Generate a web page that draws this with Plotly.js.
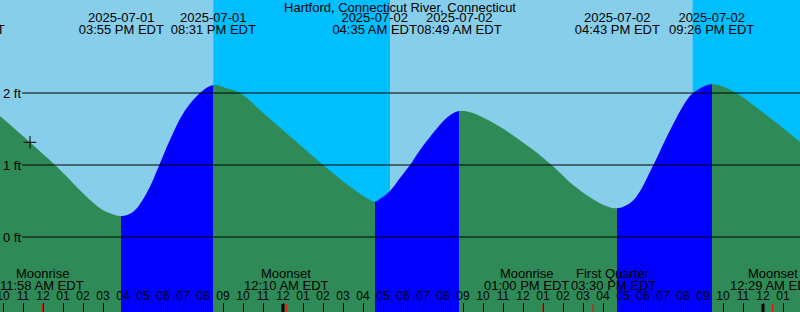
<!DOCTYPE html>
<html>
<head>
<meta charset="utf-8">
<script src="https://cdn.plot.ly/plotly-3.0.1.min.js"></script>
<style>
html,body{margin:0;padding:0;background:#87CEEB;overflow:hidden}
#chart{width:800px;height:312px}
</style>
</head>
<body>
<div id="chart"></div>
<script>
// ---------------- data ----------------
const stationName = 'Hartford, Connecticut River, Connecticut';
const xRange = ['2025-07-01 09:51', '2025-07-03 01:51'];

const curveTimes = [
  '2025-07-01 09:51','2025-07-01 11:21','2025-07-01 12:36','2025-07-01 13:11','2025-07-01 13:51',
  '2025-07-01 14:51','2025-07-01 15:21','2025-07-01 15:55','2025-07-01 16:31','2025-07-01 17:11',
  '2025-07-01 17:49','2025-07-01 18:21','2025-07-01 19:01','2025-07-01 19:51','2025-07-01 20:31',
  '2025-07-01 21:11','2025-07-01 21:51','2025-07-01 23:11','2025-07-02 02:01','2025-07-02 03:21',
  '2025-07-02 04:11','2025-07-02 04:35','2025-07-02 04:51','2025-07-02 05:21','2025-07-02 05:51',
  '2025-07-02 06:21','2025-07-02 06:51','2025-07-02 07:21','2025-07-02 07:51','2025-07-02 08:21',
  '2025-07-02 08:49','2025-07-02 09:31','2025-07-02 10:51','2025-07-02 12:31','2025-07-02 13:26',
  '2025-07-02 14:36','2025-07-02 15:51','2025-07-02 16:43','2025-07-02 17:31','2025-07-02 18:31',
  '2025-07-02 19:11','2025-07-02 20:11','2025-07-02 20:31','2025-07-02 21:26','2025-07-02 22:31',
  '2025-07-03 00:11','2025-07-03 01:51'
];
const curveFt = [
  1.68, 1.315, 1.00, 0.84, 0.65,
  0.40, 0.33, 0.29, 0.35, 0.61,
  1.00, 1.35, 1.72, 2.00, 2.11,
  2.065, 2.00, 1.68, 1.00, 0.70,
  0.54, 0.49, 0.53, 0.64, 0.82,
  1.00, 1.21, 1.39, 1.56, 1.69,
  1.75, 1.72, 1.53, 1.21, 1.00,
  0.70, 0.47, 0.40, 0.51, 1.00,
  1.39, 1.90, 2.00, 2.12, 2.02,
  1.69, 1.32
];

const tideEventTimes = ['2025-07-01 07:58','2025-07-01 15:55','2025-07-01 20:31','2025-07-02 04:35',
                        '2025-07-02 08:49','2025-07-02 16:43','2025-07-02 21:26'];
const tideEventKinds = ['High','Low','High','Low','High','Low','High'];

const sunsetTimes  = ['2025-07-01 20:31','2025-07-02 20:29'];
const sunriseTimes = ['2025-07-02 05:21','2025-07-03 05:22'];

const moonEventTimes = ['2025-07-01 11:58','2025-07-02 00:10','2025-07-02 13:00','2025-07-02 15:30','2025-07-03 00:29'];
const moonEventNames = ['Moonrise','Moonset','Moonrise','First Quarter','Moonset'];

const midnightTimes = ['2025-07-02 00:00','2025-07-03 00:00'];

const yTickValues = [0, 1, 2];
const yTickLabels = ['0 ft', '1 ft', '2 ft'];

const nowTime = '2025-07-01 11:21';
const nowFt = 1.315;

// ---------------- style ----------------
const FONT = 'Liberation Sans, Arial, sans-serif';
const DAY = '#87CEEB', NIGHT = '#00BFFF', FALL = '#2E8B57', RISE = '#0000FF';
const H = 312;
const ROW_TITLE = 7, ROW_TOP_DATE = 19, ROW_TOP_TIME = 31, ROW_BOT_NAME = 273, ROW_BOT_TIME = 285;
const moonLabelShift = [0, 0, -17, 20, 0];
const TICKLEN = 9;

// ---------------- helpers ----------------
function toMs(s) { return Date.parse(s.replace(' ', 'T') + ':00Z'); }
function clock(s) {
  const hh = +s.slice(11, 13), mm = s.slice(14, 16);
  const ap = hh < 12 ? 'AM' : 'PM';
  let h12 = hh % 12; if (h12 === 0) h12 = 12;
  return (h12 < 10 ? '0' : '') + h12 + ':' + mm + ' ' + ap + ' EDT';
}
function py(px) { return 1 - px / H; }

// gradient stops: blue while rising (low -> high), green while falling
const r0 = toMs(xRange[0]), r1 = toMs(xRange[1]);
let idx = tideEventTimes.findIndex(t => toMs(t) > r0);
let col = tideEventKinds[idx] === 'Low' ? FALL : RISE;
const stops = [[0, col]];
for (let i = idx; i < tideEventTimes.length; i++) {
  const f = (toMs(tideEventTimes[i]) - r0) / (r1 - r0);
  if (f >= 1) break;
  stops.push([f, col]);
  col = tideEventKinds[i] === 'Low' ? RISE : FALL;
  stops.push([f, col]);
}
stops.push([1, col]);

const traces = [
  { x: [curveTimes[0], curveTimes[curveTimes.length - 1]], y: [-3, -3], mode: 'lines',
    line: { width: 0 }, hoverinfo: 'skip', showlegend: false },
  { x: curveTimes, y: curveFt, mode: 'lines', line: { shape: 'spline', width: 0, color: FALL },
    fill: 'tonexty', fillcolor: FALL,
    fillgradient: { type: 'horizontal', start: r0, stop: r1, colorscale: stops },
    hoverinfo: 'skip', showlegend: false },
  { x: tideEventTimes, y: tideEventTimes.map(() => ROW_TOP_DATE), yaxis: 'y2', mode: 'text',
    text: tideEventTimes.map(t => t.slice(0, 10)), textposition: 'middle center',
    textfont: { family: FONT, size: 13, color: '#000' }, cliponaxis: true, hoverinfo: 'skip', showlegend: false },
  { x: tideEventTimes, y: tideEventTimes.map(() => ROW_TOP_TIME), yaxis: 'y2', mode: 'text',
    text: tideEventTimes.map(clock), textposition: 'middle center',
    textfont: { family: FONT, size: 13, color: '#000' }, cliponaxis: true, hoverinfo: 'skip', showlegend: false },
  { x: [nowTime], y: [nowFt], mode: 'markers',
    marker: { symbol: 'cross-thin', size: 9, color: '#000', line: { width: 1, color: '#000' } },
    cliponaxis: false, hoverinfo: 'skip', showlegend: false }
];

const shapes = [];
sunsetTimes.forEach((s, i) => shapes.push({
  type: 'rect', layer: 'below', xref: 'x', yref: 'paper', x0: s, x1: sunriseTimes[i], y0: 0, y1: 1,
  fillcolor: NIGHT, line: { width: 0 }
}));
yTickValues.forEach(v => shapes.push({
  type: 'line', layer: 'above', xref: 'paper', yref: 'y', x0: 22 / 800, x1: 1, y0: v, y1: v,
  line: { color: '#000', width: 1 }
}));
midnightTimes.forEach(t => shapes.push({
  type: 'line', layer: 'above', xref: 'x', yref: 'paper', x0: t, x1: t, y0: 0, y1: (TICKLEN - 1) / H,
  line: { color: '#000', width: 3 }
}));
moonEventTimes.forEach(t => shapes.push({
  type: 'line', layer: 'above', xref: 'x', yref: 'paper', x0: t, x1: t, y0: 0, y1: (TICKLEN - 1) / H,
  line: { color: '#FF0000', width: 1 }
}));

const annotations = [];
yTickValues.forEach((v, i) => annotations.push({
  xref: 'paper', yref: 'y', x: 0, y: v, xanchor: 'left', yanchor: 'middle', xshift: 1,
  text: yTickLabels[i], showarrow: false, font: { family: FONT, size: 13, color: '#000' }
}));
moonEventTimes.forEach((t, i) => {
  annotations.push({ xref: 'x', yref: 'paper', x: t, y: py(ROW_BOT_NAME), xanchor: 'center', yanchor: 'middle',
    xshift: moonLabelShift[i], text: moonEventNames[i], showarrow: false, font: { family: FONT, size: 13, color: '#000' } });
  annotations.push({ xref: 'x', yref: 'paper', x: t, y: py(ROW_BOT_TIME), xanchor: 'center', yanchor: 'middle',
    xshift: moonLabelShift[i], text: clock(t), showarrow: false, font: { family: FONT, size: 13, color: '#000' } });
});

const layout = {
  width: 800, height: 312,
  margin: { l: 0, r: 0, t: 0, b: 0, pad: 0 },
  paper_bgcolor: DAY, plot_bgcolor: DAY,
  showlegend: false,
  title: { text: stationName, font: { family: FONT, size: 13, color: '#000' },
           x: 0.5, xanchor: 'center', y: py(ROW_TITLE), yanchor: 'middle', yref: 'container' },
  xaxis: { type: 'date', range: xRange, showgrid: false, zeroline: false, showline: false,
           ticks: 'inside', ticklen: TICKLEN, tickwidth: 1, tickcolor: '#000',
           tick0: '2025-07-01 00:00', dtick: 3600000, tickformat: '%I',
           ticklabelposition: 'inside', ticklabeloverflow: 'allow',
           tickfont: { family: FONT, size: 12, color: '#000' }, fixedrange: true },
  yaxis: { range: [-1.0417, 3.2917], visible: false, fixedrange: true },
  yaxis2: { range: [H, 0], overlaying: 'y', visible: false, fixedrange: true },
  shapes: shapes,
  annotations: annotations
};

Plotly.newPlot('chart', traces, layout, { staticPlot: true, displayModeBar: false });
</script>
</body>
</html>
